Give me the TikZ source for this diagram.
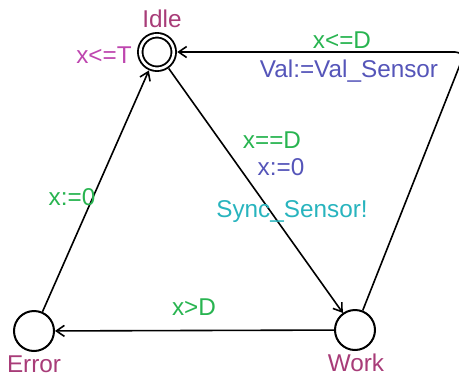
\documentclass[tikz,border=0pt]{standalone}
\usepackage{fontspec}
\setmainfont{Liberation Sans}
\usepackage{tikz}
\usepackage{xcolor}
\usetikzlibrary{arrows.meta}

\definecolor{locname}{RGB}{168,60,120}
\definecolor{invcol}{RGB}{190,70,175}
\definecolor{guardcol}{RGB}{40,180,80}
\definecolor{assigncol}{RGB}{85,85,185}
\definecolor{synccol}{RGB}{40,180,190}

\tikzset{
  loc/.style={circle, draw, line width=2pt, minimum size=40pt, inner sep=0pt},
  initloc/.style={loc, line width=1.9pt, minimum size=33.5pt, double, double distance=2.6pt, outer sep=3.5pt},
  edge/.style={line width=1.6pt, -{Straight Barb[length=8pt,width=11pt]}},
  lbl/.style={anchor=base, inner sep=0pt}
}

\begin{document}
\begin{tikzpicture}[x=1pt, y=-1pt, font=\fontsize{24.3}{28}\selectfont]
  \useasboundingbox (0,0) rectangle (459,376);

  \node[initloc] (idle)  at (157,52)  {};
  \node[loc]     (error) at (34,331)  {};
  \node[loc]     (work)  at (355,330) {};
  \coordinate (nail) at (465,52);

  \node[lbl, locname] (idlename)  at (162,27)  {Idle};
  \node[lbl, locname] (errorname) at (34,372)  {Error};
  \node[lbl, locname] (workname)  at (356,371) {Work};
  \node[lbl, invcol]  (idleinv)   at (104,63)  {x<=T};

  \draw[edge] (idle) -- (work);
  \draw[edge] (error) -- (idle);
  \draw[edge] (work) -- (error);
  \draw[edge, rounded corners=10pt] (work) -- (nail) -- (idle);

  \node[lbl, guardcol]  (g1) at (272,148) {x==D};
  \node[lbl, assigncol] (a1) at (281,175) {x:=0};
  \node[lbl, synccol]   (s1) at (292,217) {Sync\_Sensor!};
  \node[lbl, guardcol]  (a2) at (72,205)  {x:=0};
  \node[lbl, guardcol]  (g3) at (194,315) {x>D};
  \node[lbl, guardcol]  (g4) at (342,48)  {x<=D};
  \node[lbl, assigncol] (a4) at (349,77)  {Val:=Val\_Sensor};
\end{tikzpicture}
\end{document}
